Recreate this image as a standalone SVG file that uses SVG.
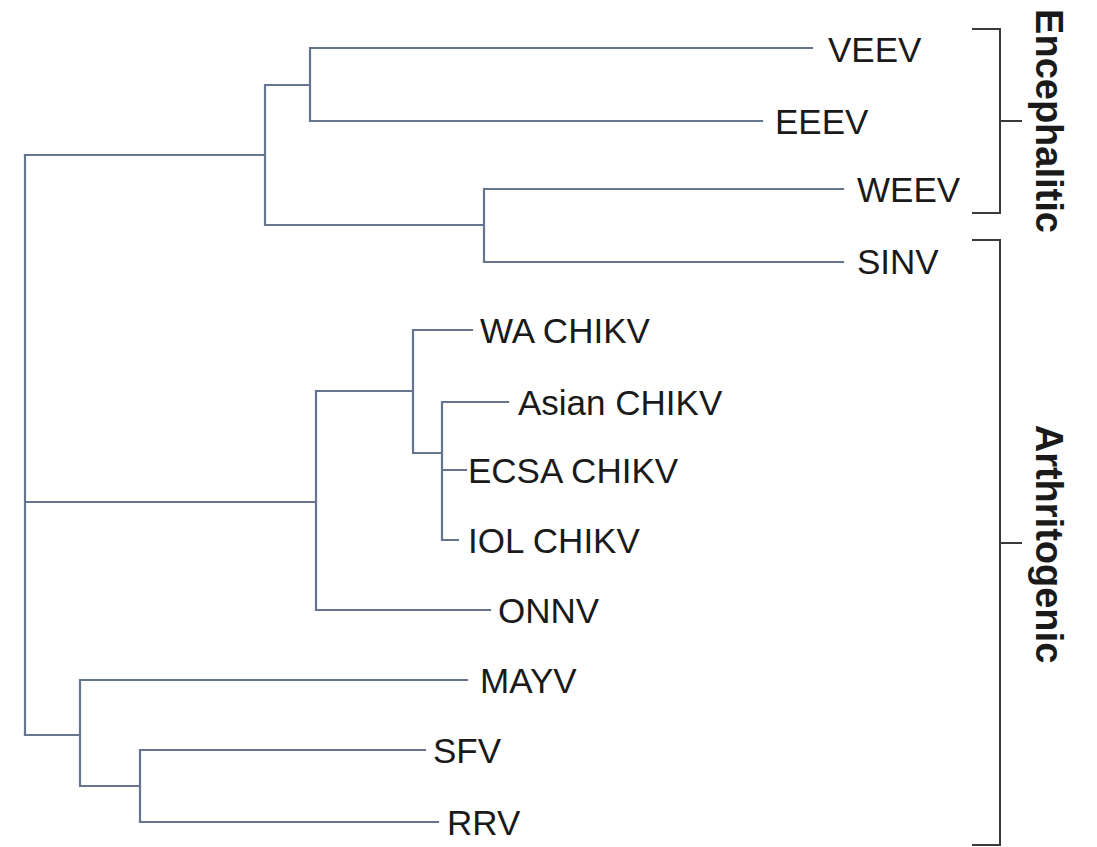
<svg xmlns="http://www.w3.org/2000/svg" width="1097" height="847" viewBox="0 0 1097 847">
<style>
.br{fill:none;stroke:#66758f;stroke-width:2.2;stroke-linecap:square}
.bk{fill:none;stroke:#3a3a3a;stroke-width:2}
.lb{font-family:"Liberation Sans",Arial,sans-serif;font-size:35px;fill:#1a1a1a}
.gp{font-family:"Liberation Sans",Arial,sans-serif;font-size:38px;font-weight:bold;fill:#1a1a1a;text-anchor:middle}
</style>
<rect width="1097" height="847" fill="#ffffff"/>
<g id="connectors">
<path class="br" d="M310,48 H812 M310,121 H762 M310,48 V121 M265,85 H310 M265,85 V225 H484 M25,155 H265 M484,189 V262 M484,189 H843 M484,262 H843"/>
<path class="br" d="M25,155 V735 M25,502 H316 M316,391 V610 M316,391 H413 M413,330 V453 M413,330 H472 M413,453 H442 M442,402 V540 M442,402 H508 M442,470 H466 M442,540 H458 M316,610 H490"/>
<path class="br" d="M25,735 H80 M80,680 V786 M80,680 H467 M80,786 H140 M140,750 V822 M140,750 H425 M140,822 H438"/>
</g>
<g id="leaf-VEEV"><text class="lb" x="828" y="62">VEEV</text></g>
<g id="leaf-EEEV"><text class="lb" x="775" y="134">EEEV</text></g>
<g id="leaf-WEEV"><text class="lb" x="857" y="202">WEEV</text></g>
<g id="leaf-SINV"><text class="lb" x="857" y="274">SINV</text></g>
<g id="leaf-WA"><text class="lb" x="480" y="343">WA CHIKV</text></g>
<g id="leaf-Asian"><text class="lb" x="518" y="415">Asian CHIKV</text></g>
<g id="leaf-ECSA"><text class="lb" x="468" y="483">ECSA CHIKV</text></g>
<g id="leaf-IOL"><text class="lb" x="468" y="553">IOL CHIKV</text></g>
<g id="leaf-ONNV"><text class="lb" x="498" y="623">ONNV</text></g>
<g id="leaf-MAYV"><text class="lb" x="480" y="693">MAYV</text></g>
<g id="leaf-SFV"><text class="lb" x="433" y="763">SFV</text></g>
<g id="leaf-RRV"><text class="lb" x="447" y="835">RRV</text></g>
<g id="group-encephalitic">
<path class="bk" d="M972,29 H1000 V213 H972 M1000,121 H1022"/>
<text class="gp" transform="translate(1036,121) rotate(90)">Encephalitic</text>
</g>
<g id="group-arthritogenic">
<path class="bk" d="M972,240 H1000 V845 H972 M1000,543 H1022"/>
<text class="gp" transform="translate(1036,544) rotate(90)">Arthritogenic</text>
</g>
</svg>
